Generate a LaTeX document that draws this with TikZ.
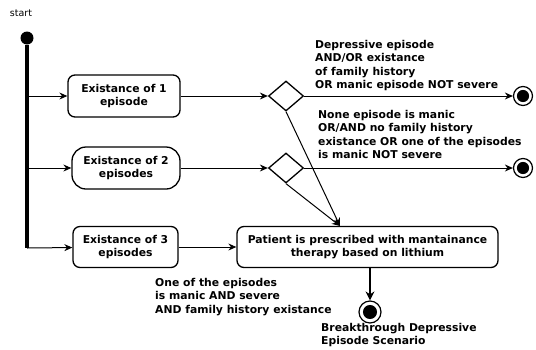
\documentclass[tikz,border=0pt]{standalone}
\usepackage{fontspec}
\setmainfont{DejaVu Sans}
\usetikzlibrary{shapes.geometric,arrows.meta}

\begin{document}
\begin{tikzpicture}[
    x=1pt, y=-1pt,
    every node/.style={font=\bfseries\fontsize{10.8}{13.5}\selectfont},
    arrow/.style={line width=1pt, -{Stealth[length=8pt,width=7pt]}},
    bigarrow/.style={line width=2.2pt, -{Stealth[length=9pt,width=9pt]}},
    activity/.style={draw, line width=1.3pt, rounded corners=7pt, align=center, inner sep=0pt},
    decision/.style={diamond, draw, line width=1.3pt, minimum width=35pt, minimum height=30pt, inner sep=0pt},
    endstate/.style={circle, draw, line width=1.2pt, inner sep=0pt, minimum size=#1,
        path picture={\fill (path picture bounding box.center) circle (0.32*#1);}},
    endstate/.default=19pt,
    note/.style={align=left, anchor=north west, inner sep=0pt}
]
    \useasboundingbox (0,0) rectangle (536,349);

    % --- Start and fork bar ---
    \node[font=\fontsize{9.5}{11}\selectfont] (startlabel) at (21,13) {start};
    \node[circle, fill, inner sep=0pt, minimum size=13pt] (start) at (27,38) {};
    \coordinate (barend) at (27,248);
    \draw[line width=3.2pt] (start) -- (barend);

    % --- Activities ---
    \node[activity, minimum width=112pt, minimum height=42pt] (one) at (124,96) {Existance of 1\\episode};
    \node[activity, minimum width=108pt, minimum height=42pt, rounded corners=14pt] (two) at (126,168) {Existance of 2\\episodes};
    \node[activity, minimum width=105pt, minimum height=41pt] (three) at (125.5,247) {Existance of 3\\episodes};
    \node[activity, minimum width=261pt, minimum height=41pt] (patient) at (367.5,247) {Patient is prescribed with mantainance\\therapy based on lithium};

    % Decisions
    \node[decision] (dec1) at (286,96) {};
    \node[decision] (dec2) at (286,168) {};

    % End states
    \node[endstate] (end1) at (523,96) {};
    \node[endstate] (end2) at (523,168) {};
    \node[endstate=22pt] (end3) at (370,312) {};

    % --- Connectors ---
    \draw[arrow] (start |- one) -- (one);
    \draw[arrow] (start |- two) -- (two);
    \draw[arrow] (barend) -- (three);

    \draw[arrow] (one) -- (dec1);
    \draw[arrow] (two) -- (dec2);
    \draw[arrow] (three) -- (patient);

    \draw[arrow] (dec1) -- (end1);
    \draw[arrow] (dec2) -- (end2);

    \coordinate (merge) at (340,226);
    \draw[arrow] (dec1.south) -- (merge);
    \draw[arrow] (dec2.south) -- (merge);

    \draw[bigarrow] (patient.south -| end3) -- (end3);

    % --- Guard labels ---
    \node[note] (guard1) at (315,40) {Depressive episode\\AND/OR existance\\of family history\\OR manic episode NOT severe};
    \node[note] (guard2) at (318,110) {None episode is manic\\OR/AND no family history\\existance OR one of the episodes\\is manic NOT severe};
    \node[note] (guard3) at (155,278) {One of the episodes\\is manic AND severe\\AND family history existance};
    \node[note] (scenario) at (321,323) {Breakthrough Depressive\\Episode Scenario};

\end{tikzpicture}
\end{document}
